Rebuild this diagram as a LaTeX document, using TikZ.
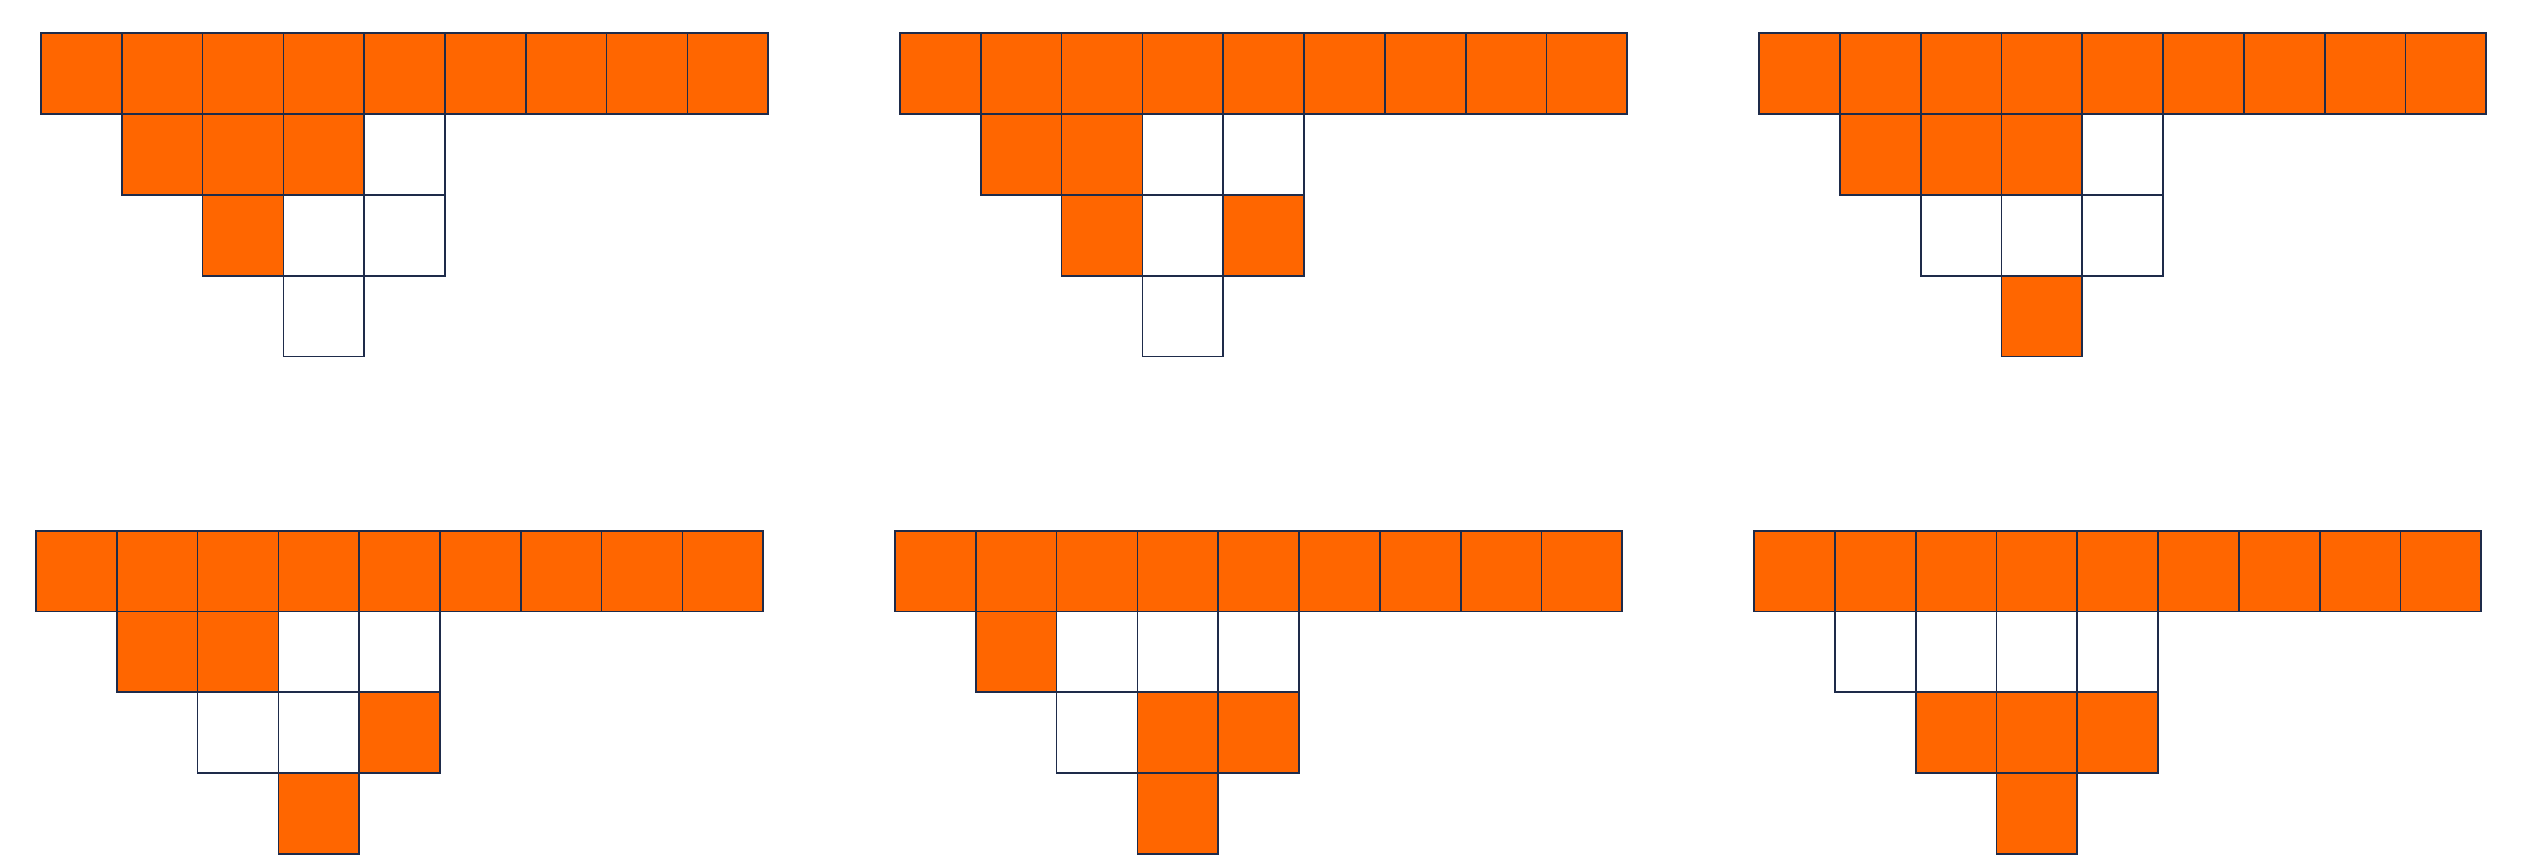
\documentclass[tikz,border=0pt]{standalone}
\definecolor{org}{HTML}{FF6600}
\definecolor{edge}{HTML}{1E2B4A}
\tikzset{
  on/.style={fill=org,draw=edge,line width=0.5pt},
  off/.style={fill=white,draw=edge,line width=0.5pt}
}
\newcommand{\trigrid}[5]{%
  \begin{scope}[shift={(#1,#2)}]
    \foreach \c in {0,...,8} \path[on] (\c*80.8,0) rectangle ++(80.8,80.8);
    \foreach \c/\f in {#3} \path[\f] (\c*80.8,80.8) rectangle ++(80.8,80.8);
    \foreach \c/\f in {#4} \path[\f] (\c*80.8,161.6) rectangle ++(80.8,80.8);
    \path[#5] (3*80.8,242.4) rectangle ++(80.8,80.8);
  \end{scope}}
\begin{document}
\begin{tikzpicture}[x=0.01cm,y=-0.01cm]
  \useasboundingbox (0,0) rectangle (2540,855);
  % top row
  \trigrid{41}{33.3}{1/on,2/on,3/on,4/off}{2/on,3/off,4/off}{off}
  \trigrid{900}{33.3}{1/on,2/on,3/off,4/off}{2/on,3/off,4/on}{off}
  \trigrid{1759}{33.3}{1/on,2/on,3/on,4/off}{2/off,3/off,4/off}{on}
  % bottom row
  \trigrid{36}{530.7}{1/on,2/on,3/off,4/off}{2/off,3/off,4/on}{on}
  \trigrid{895}{530.7}{1/on,2/off,3/off,4/off}{2/off,3/on,4/on}{on}
  \trigrid{1754}{530.7}{1/off,2/off,3/off,4/off}{2/on,3/on,4/on}{on}
\end{tikzpicture}
\end{document}
